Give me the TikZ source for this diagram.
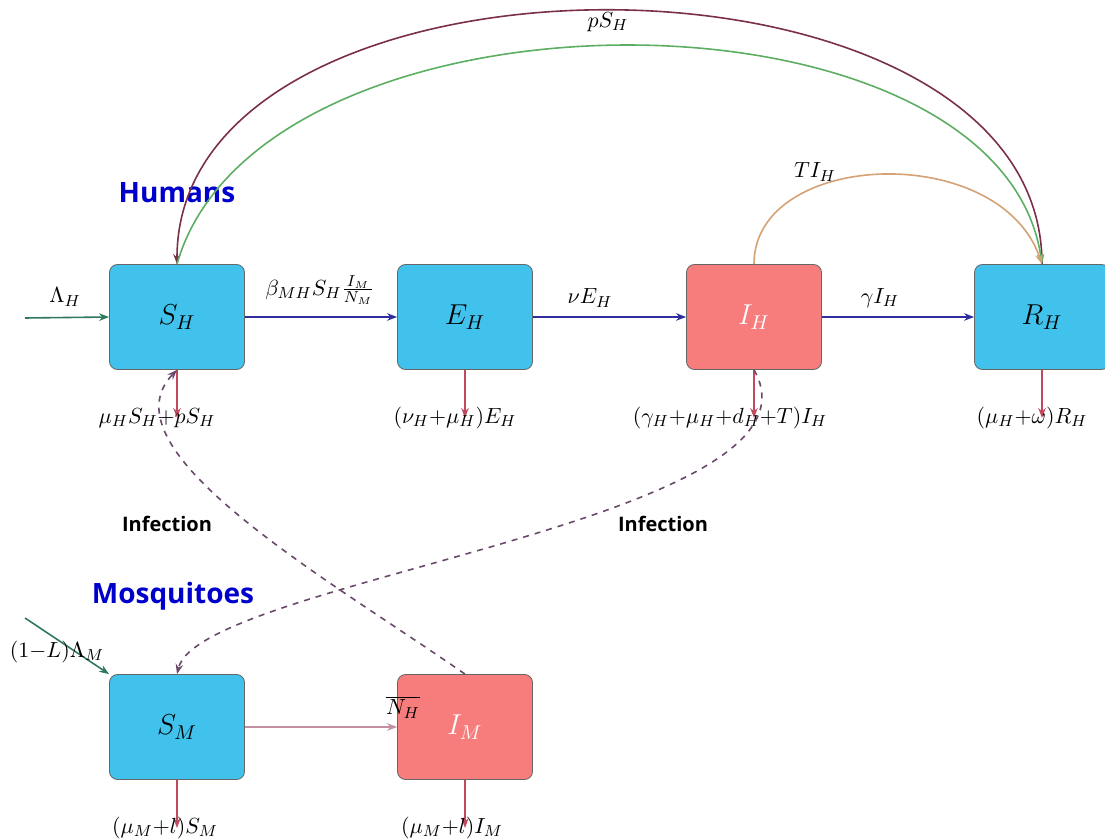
\documentclass[tikz,border=0pt]{standalone}
\usepackage{fontspec}
\setmainfont{Open Sans}
\usetikzlibrary{arrows.meta}

\definecolor{boxblue}{HTML}{40C2EC}
\definecolor{boxred}{HTML}{F77D7D}
\definecolor{flowblue}{HTML}{2E2E9C}
\definecolor{lossred}{HTML}{C04A5C}
\definecolor{inflow}{HTML}{2F7A5C}
\definecolor{vacc}{HTML}{7A3048}
\definecolor{waning}{HTML}{5DAE62}
\definecolor{treat}{HTML}{D4A274}
\definecolor{bite}{HTML}{C48FA2}
\definecolor{infect}{HTML}{6A4A6A}

\tikzset{
  compart/.style={draw=black!60, rounded corners=4pt, minimum width=67.5pt, minimum height=52.5pt, font=\fontsize{14}{16}\selectfont},
  hbox/.style={compart, fill=boxblue},
  ibox/.style={compart, fill=boxred, text=white},
  lbl/.style={font=\fontsize{11}{13}\selectfont},
}

\begin{document}
\begin{tikzpicture}[x=0.5pt, y=-0.5pt, >={Stealth[length=5pt]}]
    \useasboundingbox (0,0) rectangle (1105,840);

    % humans
    \node[hbox] (SH) at (177,317) {$S_H$};
    \node[hbox] (EH) at (465,317) {$E_H$};
    \node[ibox] (IH) at (754,317) {$I_H$};
    \node[hbox] (RH) at (1042,317) {$R_H$};

    % mosquitoes
    \node[hbox] (SM) at (177,727) {$S_M$};
    \node[ibox] (IM) at (465,727) {$I_M$};

    \node[font=\bfseries\fontsize{14}{16}\selectfont, text=blue!80!black] (hum) at (177,193) {Humans};
    \node[font=\bfseries\fontsize{14}{16}\selectfont, text=blue!80!black] (mos) at (173,596) {Mosquitoes};

    % recruitment
    \coordinate (inH) at (25,318);
    \coordinate (inM) at (25,618);
    \draw[->, inflow, thick] (inH) -- (SH.west);
    \node[lbl] (lamH) at (65,297) {$\Lambda_H$};
    \draw[->, inflow, thick] (inM) -- (SM.north west);
    \node[lbl] (lamM) at (57,652) {$(1{-}L)\Lambda_M$};

    % progression
    \draw[->, flowblue, thick] (SH) -- (EH);
    \node[lbl] (bet) at (320,290) {$\beta_{MH}S_H\frac{I_M}{N_M}$};
    \draw[->, flowblue, thick] (EH) -- (IH);
    \node[lbl] (nu) at (590,298) {$\nu E_H$};
    \draw[->, flowblue, thick] (IH) -- (RH);
    \node[lbl] (gam) at (880,298) {$\gamma I_H$};
    \draw[->, bite, thick] (SM) -- (IM);
    \node[lbl] (nh) at (403,707) {$\overline{N_H}$};

    % removal
    \coordinate (dSH) at (177,418);
    \coordinate (dEH) at (465,418);
    \coordinate (dIH) at (754,418);
    \coordinate (dRH) at (1042,418);
    \coordinate (dSM) at (177,828);
    \coordinate (dIM) at (465,828);
    \draw[->, lossred, thick] (SH) -- (dSH);
    \draw[->, lossred, thick] (EH) -- (dEH);
    \draw[->, lossred, thick] (IH) -- (dIH);
    \draw[->, lossred, thick] (RH) -- (dRH);
    \draw[->, lossred, thick] (SM) -- (dSM);
    \draw[->, lossred, thick] (IM) -- (dIM);
    \node[lbl] (oSH) at (157,418) {$\mu_H S_H{+}pS_H$};
    \node[lbl] (oEH) at (455,418) {$(\nu_H{+}\mu_H)E_H$};
    \node[lbl] (oIH) at (730,418) {$(\gamma_H{+}\mu_H{+}d_H{+}T)I_H$};
    \node[lbl] (oRH) at (1032,418) {$(\mu_H{+}\omega)R_H$};
    \node[lbl] (oSM) at (165,828) {$(\mu_M{+}l)S_M$};
    \node[lbl] (oIM) at (452,828) {$(\mu_M{+}l)I_M$};

    % vaccination, waning, treatment
    \draw[->, vacc, thick] (RH.north) .. controls (1042,-74) and (177,-74) .. (SH.north);
    \node[lbl] (pSH) at (608,22) {$pS_H$};
    \draw[->, waning, thick] (SH.north) .. controls (260,-27) and (1000,-27) .. (RH.north);
    \draw[->, treat, thick] (IH.north) .. controls (754,150) and (1000,140) .. (RH.north);
    \node[lbl] (TIH) at (815,172) {$TI_H$};

    % infection
    \draw[->, infect, thick, dashed] (IM.north) .. controls (330,580) and (100,450) .. (SH.south);
    \draw[->, infect, thick, dashed] (IH.south) .. controls (840,520) and (200,580) .. (SM.north);
    \node[font=\bfseries\fontsize{10}{12}\selectfont] (inf1) at (167,524) {Infection};
    \node[font=\bfseries\fontsize{10}{12}\selectfont] (inf2) at (663,524) {Infection};

\end{tikzpicture}
\end{document}
